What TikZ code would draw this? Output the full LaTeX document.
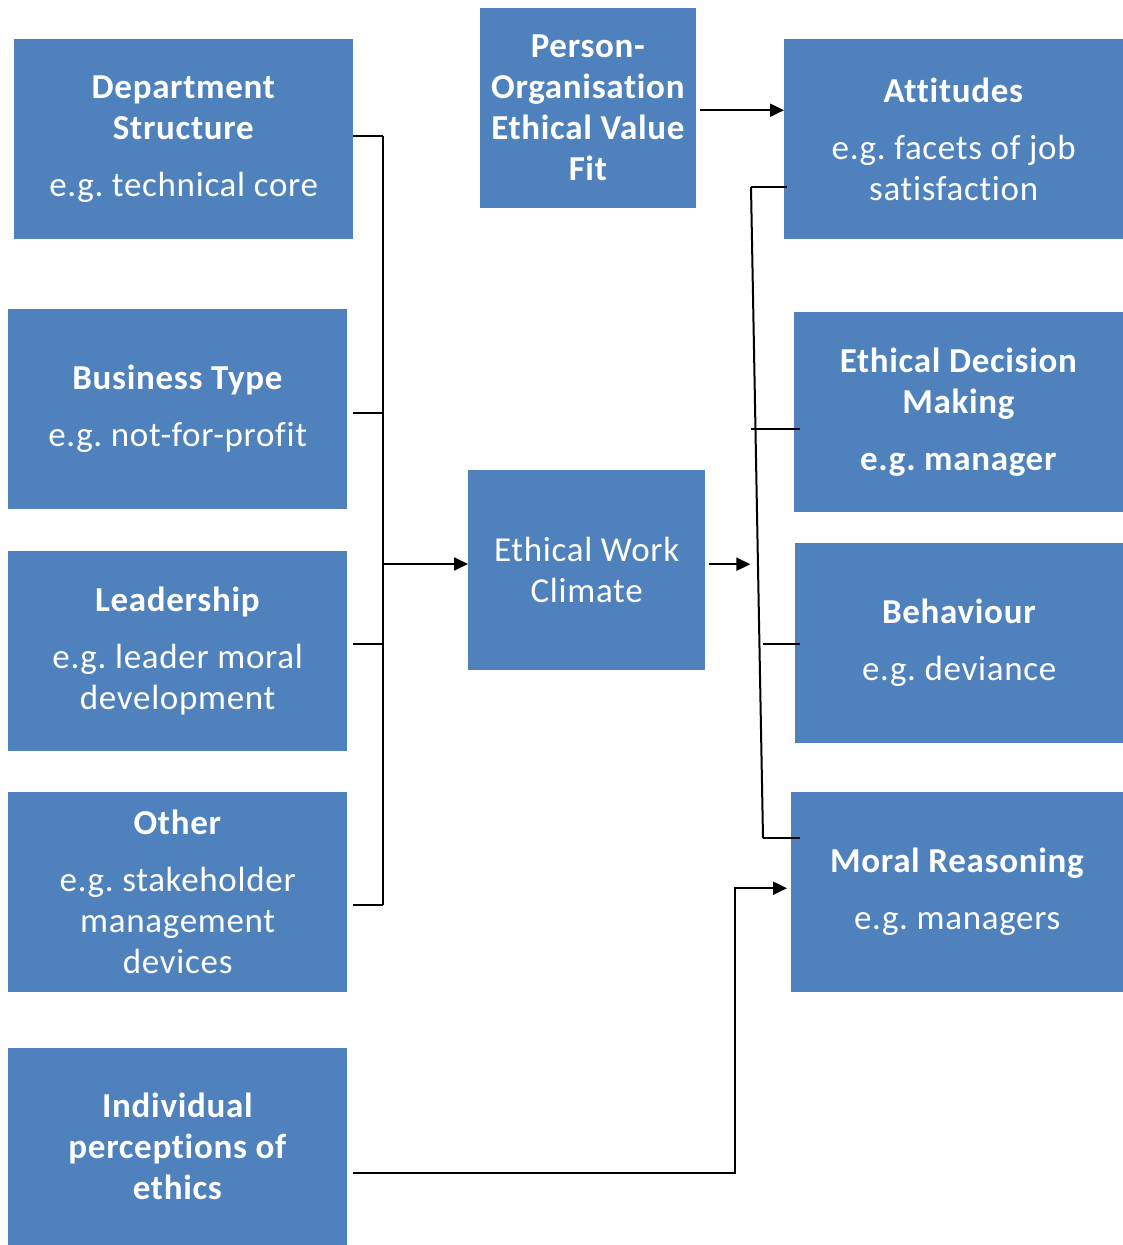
\documentclass[tikz,border=0pt]{standalone}
\usepackage{fontspec}
\setmainfont{Carlito}[LetterSpace=2,Ligatures=NoCommon]
\usepackage{xcolor}
\usetikzlibrary{arrows.meta}
\definecolor{boxblue}{RGB}{79,129,189}
\frenchspacing

\begin{document}
\begin{tikzpicture}[x=1pt,y=-1pt]

	\tikzstyle{box}=[rectangle,fill=boxblue,text=white,align=center,inner sep=0pt,anchor=north west,font=\fontsize{35}{41}\selectfont]
	\tikzstyle{link}=[line width=2pt]
	\tikzstyle{arr}=[line width=2pt,-{Triangle[length=14pt,width=13pt]}]

	\useasboundingbox (0,0) rectangle (1123,1245);

	% left column
	\node[box,minimum width=339pt,minimum height=200pt] (dept) at (14,39)
		{\textbf{Department}\\\textbf{Structure}\\[16pt]e.g. technical core};
	\node[box,minimum width=339pt,minimum height=200pt] (biz) at (8,309)
		{\textbf{Business Type}\\[16pt]e.g. not-for-profit};
	\node[box,minimum width=339pt,minimum height=200pt] (lead) at (8,551)
		{\textbf{Leadership}\\[16pt]e.g. leader moral\\development};
	\node[box,minimum width=339pt,minimum height=200pt] (other) at (8,792)
		{\textbf{Other}\\[16pt]e.g. stakeholder\\management\\devices};
	\node[box,minimum width=339pt,minimum height=197pt] (indiv) at (8,1048)
		{\textbf{Individual}\\\textbf{perceptions of}\\\textbf{ethics}};

	% middle
	\node[box,minimum width=216pt,minimum height=200pt] (pofit) at (480,8)
		{\textbf{Person-}\\\textbf{Organisation}\\\textbf{Ethical Value}\\\textbf{Fit}};
	\node[box,minimum width=237pt,minimum height=200pt] (ewc) at (468,470)
		{Ethical Work\\Climate};

	% right column
	\node[box,minimum width=339pt,minimum height=200pt] (att) at (784,39)
		{\textbf{Attitudes}\\[16pt]e.g. facets of job\\satisfaction};
	\node[box,minimum width=329pt,minimum height=200pt] (edm) at (794,312)
		{\textbf{Ethical Decision}\\\textbf{Making}\\[16pt]\textbf{e.g. manager}};
	\node[box,minimum width=328pt,minimum height=200pt] (beh) at (795,543)
		{\textbf{Behaviour}\\[16pt]e.g. deviance};
	\node[box,minimum width=332pt,minimum height=200pt] (moral) at (791,792)
		{\textbf{Moral Reasoning}\\[16pt]e.g. managers};

	% left bracket into climate
	\coordinate (ltop) at (383,136);
	\coordinate (lbot) at (383,905);
	\draw[link] (ltop) -- (lbot);
	\draw[link] (dept.east |- ltop) -- (ltop);
	\draw[link] ([xshift=6pt,yshift=-4pt]biz.east) -- ([yshift=-4pt]biz.east -| ltop);
	\draw[link] ([xshift=6pt,yshift=7pt]lead.east) -- ([yshift=7pt]lead.east -| ltop);
	\draw[link] ([xshift=6pt]other.east |- lbot) -- (lbot);
	\draw[arr] (ltop |- 0,564) coordinate (lmid) -- (lmid -| ewc.west);

	% fit to attitudes
	\draw[arr] ([xshift=4pt,yshift=-2pt]pofit.east) -- ([yshift=-2pt]pofit.east -| att.west);

	% climate to outcomes
	\coordinate (rtop) at (751,187);
	\coordinate (rbot) at (763,838);
	\draw[arr] ([xshift=4pt,yshift=6pt]ewc.east) -- ++(41,0) coordinate (ewcend);
	\draw[link] (rtop) -- (rbot);
	\draw[link] (rtop) -- ([xshift=3pt]rtop -| att.west);
	\draw[link] (751,429) coordinate (edmtick) -- ([xshift=6pt]edmtick -| edm.west);
	\draw[link] (763,644) coordinate (behtick) -- ([xshift=5pt]behtick -| beh.west);
	\draw[link] (rbot) -- ([xshift=9pt]rbot -| moral.west);

	% individual perceptions to moral reasoning
	\coordinate (ibend) at (735,1173);
	\draw[arr] ([xshift=6pt]indiv.east |- ibend) -- (ibend) |- ([xshift=-4pt,yshift=4pt]moral.west);

\end{tikzpicture}
\end{document}
